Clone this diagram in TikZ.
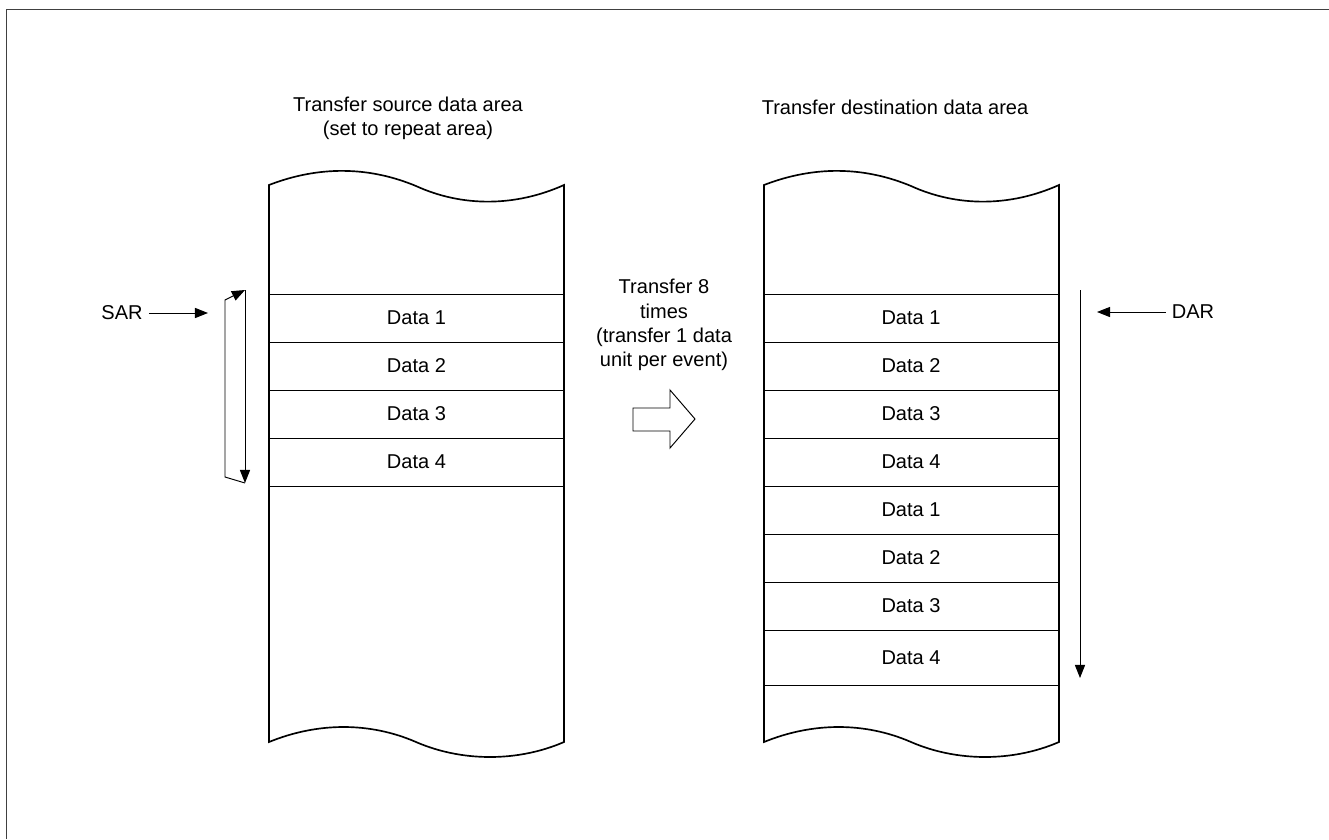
\documentclass[tikz,border=0pt]{standalone}
\usepackage{fontspec}
\setmainfont{Liberation Sans}
\usetikzlibrary{arrows.meta}

\tikzset{
  ptr/.style={-{Triangle[length=7.5pt, width=5.8pt]}, line width=0.55pt},
  rowline/.style={line width=0.55pt},
  areaedge/.style={line width=0.95pt},
}

\begin{document}
\begin{tikzpicture}[x=0.02cm, y=-0.02cm, font=\fontsize{11.4}{13.4}\selectfont]
  \useasboundingbox (0,0) rectangle (1329,839);
  % --- frame ---
  \draw[line width=0.8pt, black!75] (6.5,839) -- (6.5,9.5) -- (1329,9.5);

  % --- outlines of both data areas ---
  \foreach \dx in {0,495} {
    \begin{scope}[shift={(\dx,0)}]
      \draw[areaedge] (269,185) .. controls (318,166) and (368,166) .. (416,186)
        .. controls (462,207) and (515,207) .. (564,185) -- (564,742)
        .. controls (518,762) and (462,762) .. (416,742)
        .. controls (370,722) and (318,722) .. (269,742) -- cycle;
    \end{scope}
  }

  % --- left panel: source (repeat area) ---
  \node[align=center] (srctitle) at (408,118.5) {Transfer source data area\\(set to repeat area)};
  \foreach \y in {294,342,390,438,486}
    \draw[rowline] (269,\y) -- (564,\y);
  \foreach \i/\y in {1/318,2/366,3/414,4/462}
    \node (s\i) at (416.5,\y) {Data \i};

  % --- SAR and its repeat loop ---
  \node (sar) at (122,313) {SAR};
  \coordinate (sartip) at (208,313);
  \draw[ptr] (sar.east) -- (sartip);
  \coordinate (looptop) at (245,290);
  \coordinate (loopbot) at (245,483);
  \coordinate (loopl) at (225,477);
  \coordinate (loopu) at (225,300);
  \draw[ptr] (looptop) -- (loopbot);
  \draw[ptr] (loopbot) -- (loopl) -- (loopu) -- (looptop);

  % --- middle: transfer note and hollow arrow ---
  \node[align=center, font=\fontsize{11.4}{13.8}\selectfont] (note) at (664,325)
    {Transfer 8\\times\\(transfer 1 data\\unit per event)};
  \draw[line width=0.55pt] (633,408) -- (670,408) -- (670,390) -- (695,419)
    -- (670,448) -- (670,431) -- (633,431) -- cycle;

  % --- right panel: destination ---
  \node (dsttitle) at (895,107) {Transfer destination data area};
  \foreach \y in {294,342,390,438,486,534,582,630,685}
    \draw[rowline] (764,\y) -- (1058,\y);
  \foreach \i/\n/\y in {1/1/318,2/2/366,3/3/414,4/4/462,5/1/510,6/2/558,7/3/606,8/4/657.5}
    \node (d\i) at (911,\y) {Data \n};

  % --- DAR and its run ---
  \node (dar) at (1193,312) {DAR};
  \coordinate (dartip) at (1097,312);
  \draw[ptr] (dar.west) -- (dartip);
  \coordinate (dartop) at (1080,290);
  \coordinate (darbot) at (1080,678);
  \draw[ptr] (dartop) -- (darbot);
\end{tikzpicture}
\end{document}
